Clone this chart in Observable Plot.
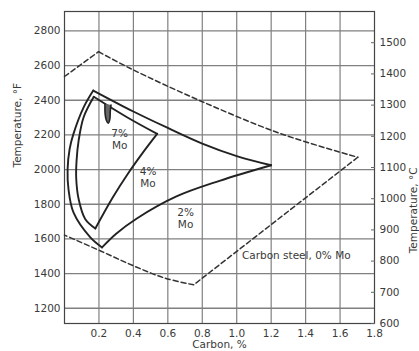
<!DOCTYPE html>
<html><head><meta charset="utf-8">
<script src="https://cdn.jsdelivr.net/npm/d3@7"></script>
<script src="https://cdn.jsdelivr.net/npm/@observablehq/plot@0.6"></script>
<style>body{margin:0;background:#fff} svg{display:block}</style>
</head><body><div id="chart"></div>
<script>
// Tick values
const carbonTicks = [0.2, 0.4, 0.6, 0.8, 1.0, 1.2, 1.4, 1.6, 1.8];
const tempFTicks = [1200, 1400, 1600, 1800, 2000, 2200, 2400, 2600, 2800];
const tempCTicks = [600, 700, 800, 900, 1000, 1100, 1200, 1300, 1400, 1500];

// Carbon steel, 0% Mo (dashed) : [carbon %, temperature °F]
const steelUpperLeft = [[0, 2537], [0.198, 2680]];
const steelUpperRight = [[0.198, 2680], [0.383, 2583], [0.79, 2396], [1.256, 2207], [1.703, 2071]];
const steelLowerRight = [[1.703, 2071], [0.75, 1335]];
const steelLowerLeft = [[0.75, 1335], [0.58, 1375], [0.4, 1445], [0.21, 1530], [0, 1622]];

// 2% Mo loop
const mo2Top = [[0.167, 2456], [0.4, 2335], [0.6, 2240], [0.8, 2150], [1.0, 2078], [1.2, 2025]];
const mo2Bottom = [[1.2, 2025], [0.9, 1935], [0.65, 1845], [0.42, 1718], [0.3, 1630], [0.218, 1551]];
const mo2Left = [[0.218, 1551], [0.15, 1609], [0.052, 1753], [0.023, 1888], [0.018, 2000], [0.03, 2120], [0.052, 2206], [0.111, 2359], [0.167, 2456]];

// 4% Mo loop
const mo4Top = [[0.17, 2420], [0.363, 2302], [0.538, 2206]];
const mo4Right = [[0.538, 2206], [0.455, 2098], [0.37, 1979], [0.28, 1839], [0.179, 1660]];
const mo4Left = [[0.179, 1660], [0.12, 1715], [0.082, 1830], [0.068, 1950], [0.07, 2050], [0.082, 2167], [0.111, 2302], [0.17, 2420]];

// 7% Mo loop
const mo7 = [[0.235, 2380], [0.236, 2320], [0.243, 2285], [0.254, 2268], [0.263, 2290], [0.266, 2340], [0.27, 2372]];

// Labels
const moLabels = [
  {c: 0.32, t: 2176, text: "7%\nMo"},
  {c: 0.485, t: 1957, text: "4%\nMo"},
  {c: 0.703, t: 1720, text: "2%\nMo"}
];
const steelLabel = [{c: 1.03, t: 1503, text: "Carbon steel, 0% Mo"}];

const toF = c => c * 9 / 5 + 32;
const toC = f => (f - 32) * 5 / 9;

const ink = "#222";
const txt = "#3a3a3a";
const fs = 10.5;
const solid = (pts, curve) => Plot.line(pts, {x: d => d[0], y: d => d[1], stroke: ink, strokeWidth: 1.9, curve});
const dashed = (pts, curve) => Plot.line(pts, {x: d => d[0], y: d => d[1], stroke: "#333", strokeWidth: 1.5, strokeDasharray: "5,3", curve});

const chart = Plot.plot({
  width: 419,
  height: 351,
  marginTop: 11,
  marginBottom: 28,
  marginLeft: 64,
  marginRight: 45,
  style: {fontFamily: "DejaVu Sans, sans-serif", fontSize: "10.5px", color: txt, background: "#fff"},
  x: {domain: [0, 1.8]},
  y: {domain: [toF(600), toF(1600)]},
  marks: [
    Plot.gridX(carbonTicks.slice(0, -1), {stroke: "#808080", strokeOpacity: 1, strokeWidth: 1.2}),
    Plot.gridY(tempFTicks, {stroke: "#808080", strokeOpacity: 1, strokeWidth: 1.3}),
    Plot.frame({stroke: "#444", strokeWidth: 1.2}),
    Plot.axisY(tempFTicks, {anchor: "left", tickSize: 0, tickPadding: 4, label: null, tickFormat: d => String(d), fill: txt, fontSize: fs}),
    Plot.axisY(tempCTicks.map(toF), {anchor: "right", tickSize: 4, dx: -4, tickPadding: 5, label: null, tickFormat: f => String(Math.round(toC(f))), fill: txt, stroke: "#666", fontSize: fs}),
    Plot.axisX(carbonTicks, {anchor: "bottom", tickSize: 0, tickPadding: 6, label: null, tickFormat: d => d.toFixed(1), fill: txt, fontSize: fs}),
    Plot.text(["Temperature, °F"], {frameAnchor: "left", rotate: -90, dx: -47, fill: txt, fontSize: fs}),
    Plot.text(["Temperature, °C"], {frameAnchor: "right", rotate: -90, dx: 39, fill: txt, fontSize: fs}),
    Plot.text(["Carbon, %"], {frameAnchor: "bottom", dy: 24, fill: txt, fontSize: fs}),
    dashed(steelUpperLeft, "linear"),
    dashed(steelUpperRight, "catmull-rom"),
    dashed(steelLowerRight, "linear"),
    dashed(steelLowerLeft, "catmull-rom"),
    solid(mo2Top, "catmull-rom"),
    solid(mo2Bottom, "catmull-rom"),
    solid(mo2Left, "catmull-rom"),
    solid(mo4Top, "catmull-rom"),
    solid(mo4Right, "catmull-rom"),
    solid(mo4Left, "catmull-rom"),
    Plot.line(mo7, {x: d => d[0], y: d => d[1], stroke: ink, strokeWidth: 1.6, fill: "#666", curve: "catmull-rom"}),
    Plot.text(moLabels, {x: "c", y: "t", text: "text", fill: txt, fontSize: fs, lineHeight: 1.2}),
    Plot.text(steelLabel, {x: "c", y: "t", text: "text", textAnchor: "start", fill: txt, fontSize: fs})
  ]
});
document.getElementById("chart").appendChild(chart);
</script>
</body></html>
